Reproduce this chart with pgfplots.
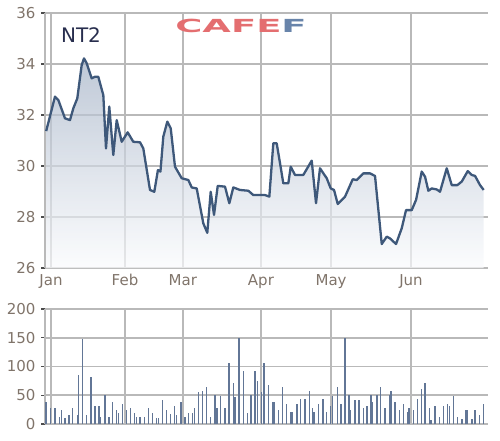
\documentclass[border=0pt]{standalone}
\usepackage{pgfplots}
\pgfplotsset{compat=1.18}
\usepackage{fontspec}
\setmainfont{DejaVu Sans}
\definecolor{lineblue}{RGB}{62,88,122}
\definecolor{barblue}{RGB}{98,118,150}
\definecolor{gridgray}{RGB}{185,185,185}
\definecolor{axisgray}{RGB}{185,185,185}
\definecolor{ticklab}{RGB}{128,116,106}
\definecolor{cafered}{RGB}{228,110,112}
\definecolor{cafeblue}{RGB}{104,132,170}
\definecolor{fillblue}{RGB}{164,178,198}
\definecolor{fillwhite}{RGB}{250,251,253}

\pgfplotsset{
  mystyle/.style={
    scale only axis, width=443pt, clip=false,
    axis x line*=bottom, axis y line*=left,
    axis line style={draw=axisgray, line width=1.6pt, -},
    xmin=-0.33, xmax=122.2,
    xtick={1.33,21.8,37.8,59.4,78.8,100.9},
    xtick align=inside, ytick align=outside,
    xtick style={draw=gridgray, line width=1.6pt},
    ytick pos=left,
    ytick style={draw=black!70, line width=1.2pt},
    major tick length=4pt,
    tick label style={font=\fontsize{15}{15}\selectfont, text=ticklab},
    yticklabel style={xshift=-2pt},
    /pgf/number format/assume math mode=true,
  },
  gridline/.style={draw=gridgray, line width=1.6pt, no marks, forget plot, opacity=1},
}

\pgfplotstableread{
x y
0 31.37
2.43 32.72
3.35 32.59
5.2 31.87
6.58 31.80
7.5 32.26
8.6 32.65
9.82 33.96
10.46 34.22
11.2 34.03
12.59 33.44
13.5 33.5
14.41 33.5
15.8 32.78
16.54 30.69
17.45 32.33
18.56 30.43
19.5 31.80
20.89 30.95
22.54 31.32
24.09 30.95
25.95 30.93
26.86 30.69
28.71 29.06
29.9 28.99
30.9 29.84
31.6 29.78
32.39 31.15
33.5 31.74
34.44 31.48
35.63 29.97
37.48 29.52
39.31 29.45
40.25 29.16
41.63 29.12
43.46 27.75
44.56 27.38
45.5 28.99
46.42 28.08
47.44 29.22
49.46 29.19
50.65 28.54
51.76 29.16
53.61 29.06
55.91 29.03
57.29 28.86
60.53 28.86
61.72 28.80
62.82 30.89
63.76 30.89
65.59 29.32
66.97 29.32
67.63 29.97
68.82 29.65
71.12 29.65
73.44 30.21
74.63 28.54
75.73 29.91
77.59 29.52
78.7 29.12
79.61 29.06
80.64 28.51
82.66 28.80
84.79 29.48
85.89 29.45
87.72 29.71
89.57 29.71
90.95 29.61
92.81 26.94
94.19 27.23
95.1 27.16
96.76 26.94
98.34 27.56
99.53 28.27
101.1 28.27
102.3 28.67
103.87 29.78
104.79 29.58
105.7 29.03
106.64 29.12
108.02 29.08
108.93 28.99
110.79 29.91
112.17 29.25
113.72 29.25
114.94 29.39
116.6 29.80
117.7 29.65
118.62 29.61
120.0 29.25
121.0 29.06
}\price

\pgfplotstableread{
x v
0 38
1.24 28
2.43 27
3.63 12
4.19 24
5.2 10
6.31 16
7.32 27
8.61 16
8.98 85
10.09 148
11.19 16
12.39 82
13.5 31
14.61 31
15.07 12
16.27 51
17.37 12
18.39 38
19.49 24
19.95 19
21.15 34
22.26 25
23.37 27
24.47 19
25.03 12
25.95 12
27.15 12
28.35 27
29.45 20
30.56 11
31.02 10
32.22 41
33.33 24
34.43 17
35.54 31
36.09 16
37.29 38
38.4 12
39.32 19
40.52 19
40.98 27
42.08 55
43.19 58
44.39 65
45.5 12
46.69 51
47.16 27
48.26 48
49.46 27
50.57 106
51.77 72
52.23 47
53.33 150
54.53 92
55.64 19
56.65 51
57.76 92
58.4 75
59.6 55
60.25 106
61.45 68
62.65 38
63.2 38
64.21 24
65.41 65
66.52 34
67.72 21
68.18 21
69.29 34
70.39 44
71.59 44
72.79 58
73.71 27
74.08 21
75.28 34
76.48 44
77.58 21
78.69 31
79.24 48
80.53 65
81.55 34
82.66 150
83.67 51
84.04 24
85.33 41
86.53 41
87.73 27
88.65 31
89.85 51
90.22 38
91.42 51
92.52 65
93.72 27
94.92 51
95.29 58
96.49 38
97.69 24
98.79 34
99.99 21
100.36 27
101.56 24
102.66 44
103.86 61
104.79 71
105.98 27
106.45 7
107.55 31
108.75 12
109.86 31
110.96 34
111.52 32
112.62 48
113.73 12
114.93 8
116.04 24
116.5 24
117.7 8
118.62 24
119.82 16
120.92 34
}\volume

\begin{document}
\begin{tikzpicture}
\begin{axis}[mystyle,
  at={(45pt,-268pt)}, anchor=south west, height=255pt,
  ymin=26, ymax=36, ytick={26,28,...,36},
  xticklabels={Jan,Feb,Mar,Apr,May,Jun},
  xticklabel style={yshift=-3pt},
]
\addplot[gridline] coordinates {(1.33,26) (1.33,36)};
\addplot[gridline] coordinates {(21.8,26) (21.8,36)};
\addplot[gridline] coordinates {(37.8,26) (37.8,36)};
\addplot[gridline] coordinates {(59.4,26) (59.4,36)};
\addplot[gridline] coordinates {(78.8,26) (78.8,36)};
\addplot[gridline] coordinates {(100.9,26) (100.9,36)};
\addplot[gridline] coordinates {(-0.33,28) (122.2,28)};
\addplot[gridline] coordinates {(-0.33,30) (122.2,30)};
\addplot[gridline] coordinates {(-0.33,32) (122.2,32)};
\addplot[gridline] coordinates {(-0.33,34) (122.2,34)};
\addplot[gridline] coordinates {(-0.33,36) (122.2,36)};
\addplot[draw=none, top color=fillblue, bottom color=fillwhite, fill opacity=0.7, forget plot]
  table[x=x,y=y] {\price} -- (axis cs:121,26) -- (axis cs:0,26) -- cycle;
\addplot[lineblue, line width=2.3pt, line join=round, no marks]
  table[x=x,y=y] {\price};
\end{axis}
\begin{axis}[mystyle,
  at={(45pt,-424pt)}, anchor=south west, height=115pt,
  ymin=0, ymax=200, ytick={0,50,...,200},
  xticklabels={},
]
\addplot[gridline] coordinates {(1.33,0) (1.33,200)};
\addplot[gridline] coordinates {(21.8,0) (21.8,200)};
\addplot[gridline] coordinates {(37.8,0) (37.8,200)};
\addplot[gridline] coordinates {(59.4,0) (59.4,200)};
\addplot[gridline] coordinates {(78.8,0) (78.8,200)};
\addplot[gridline] coordinates {(100.9,0) (100.9,200)};
\addplot[gridline] coordinates {(-0.33,50) (122.2,50)};
\addplot[gridline] coordinates {(-0.33,100) (122.2,100)};
\addplot[gridline] coordinates {(-0.33,150) (122.2,150)};
\addplot[gridline] coordinates {(-0.33,200) (122.2,200)};
\addplot[ycomb, barblue, line width=1.6pt, no marks]
  table[x=x,y=v] {\volume};
\end{axis}
\node[text={rgb,255:red,40;green,46;blue,78}, font=\fontsize{20}{20}\selectfont] at (81pt,-35.5pt) {NT2};
\node[anchor=west, xscale=2.05, font=\fontsize{18}{18}\selectfont\bfseries, inner sep=0pt] at (175pt,-25.5pt) {\textcolor{cafered}{CAFE}\textcolor{cafeblue}{F}};
\pgfresetboundingbox
\path (0,0) rectangle (500pt,-441pt);
\end{tikzpicture}
\end{document}
